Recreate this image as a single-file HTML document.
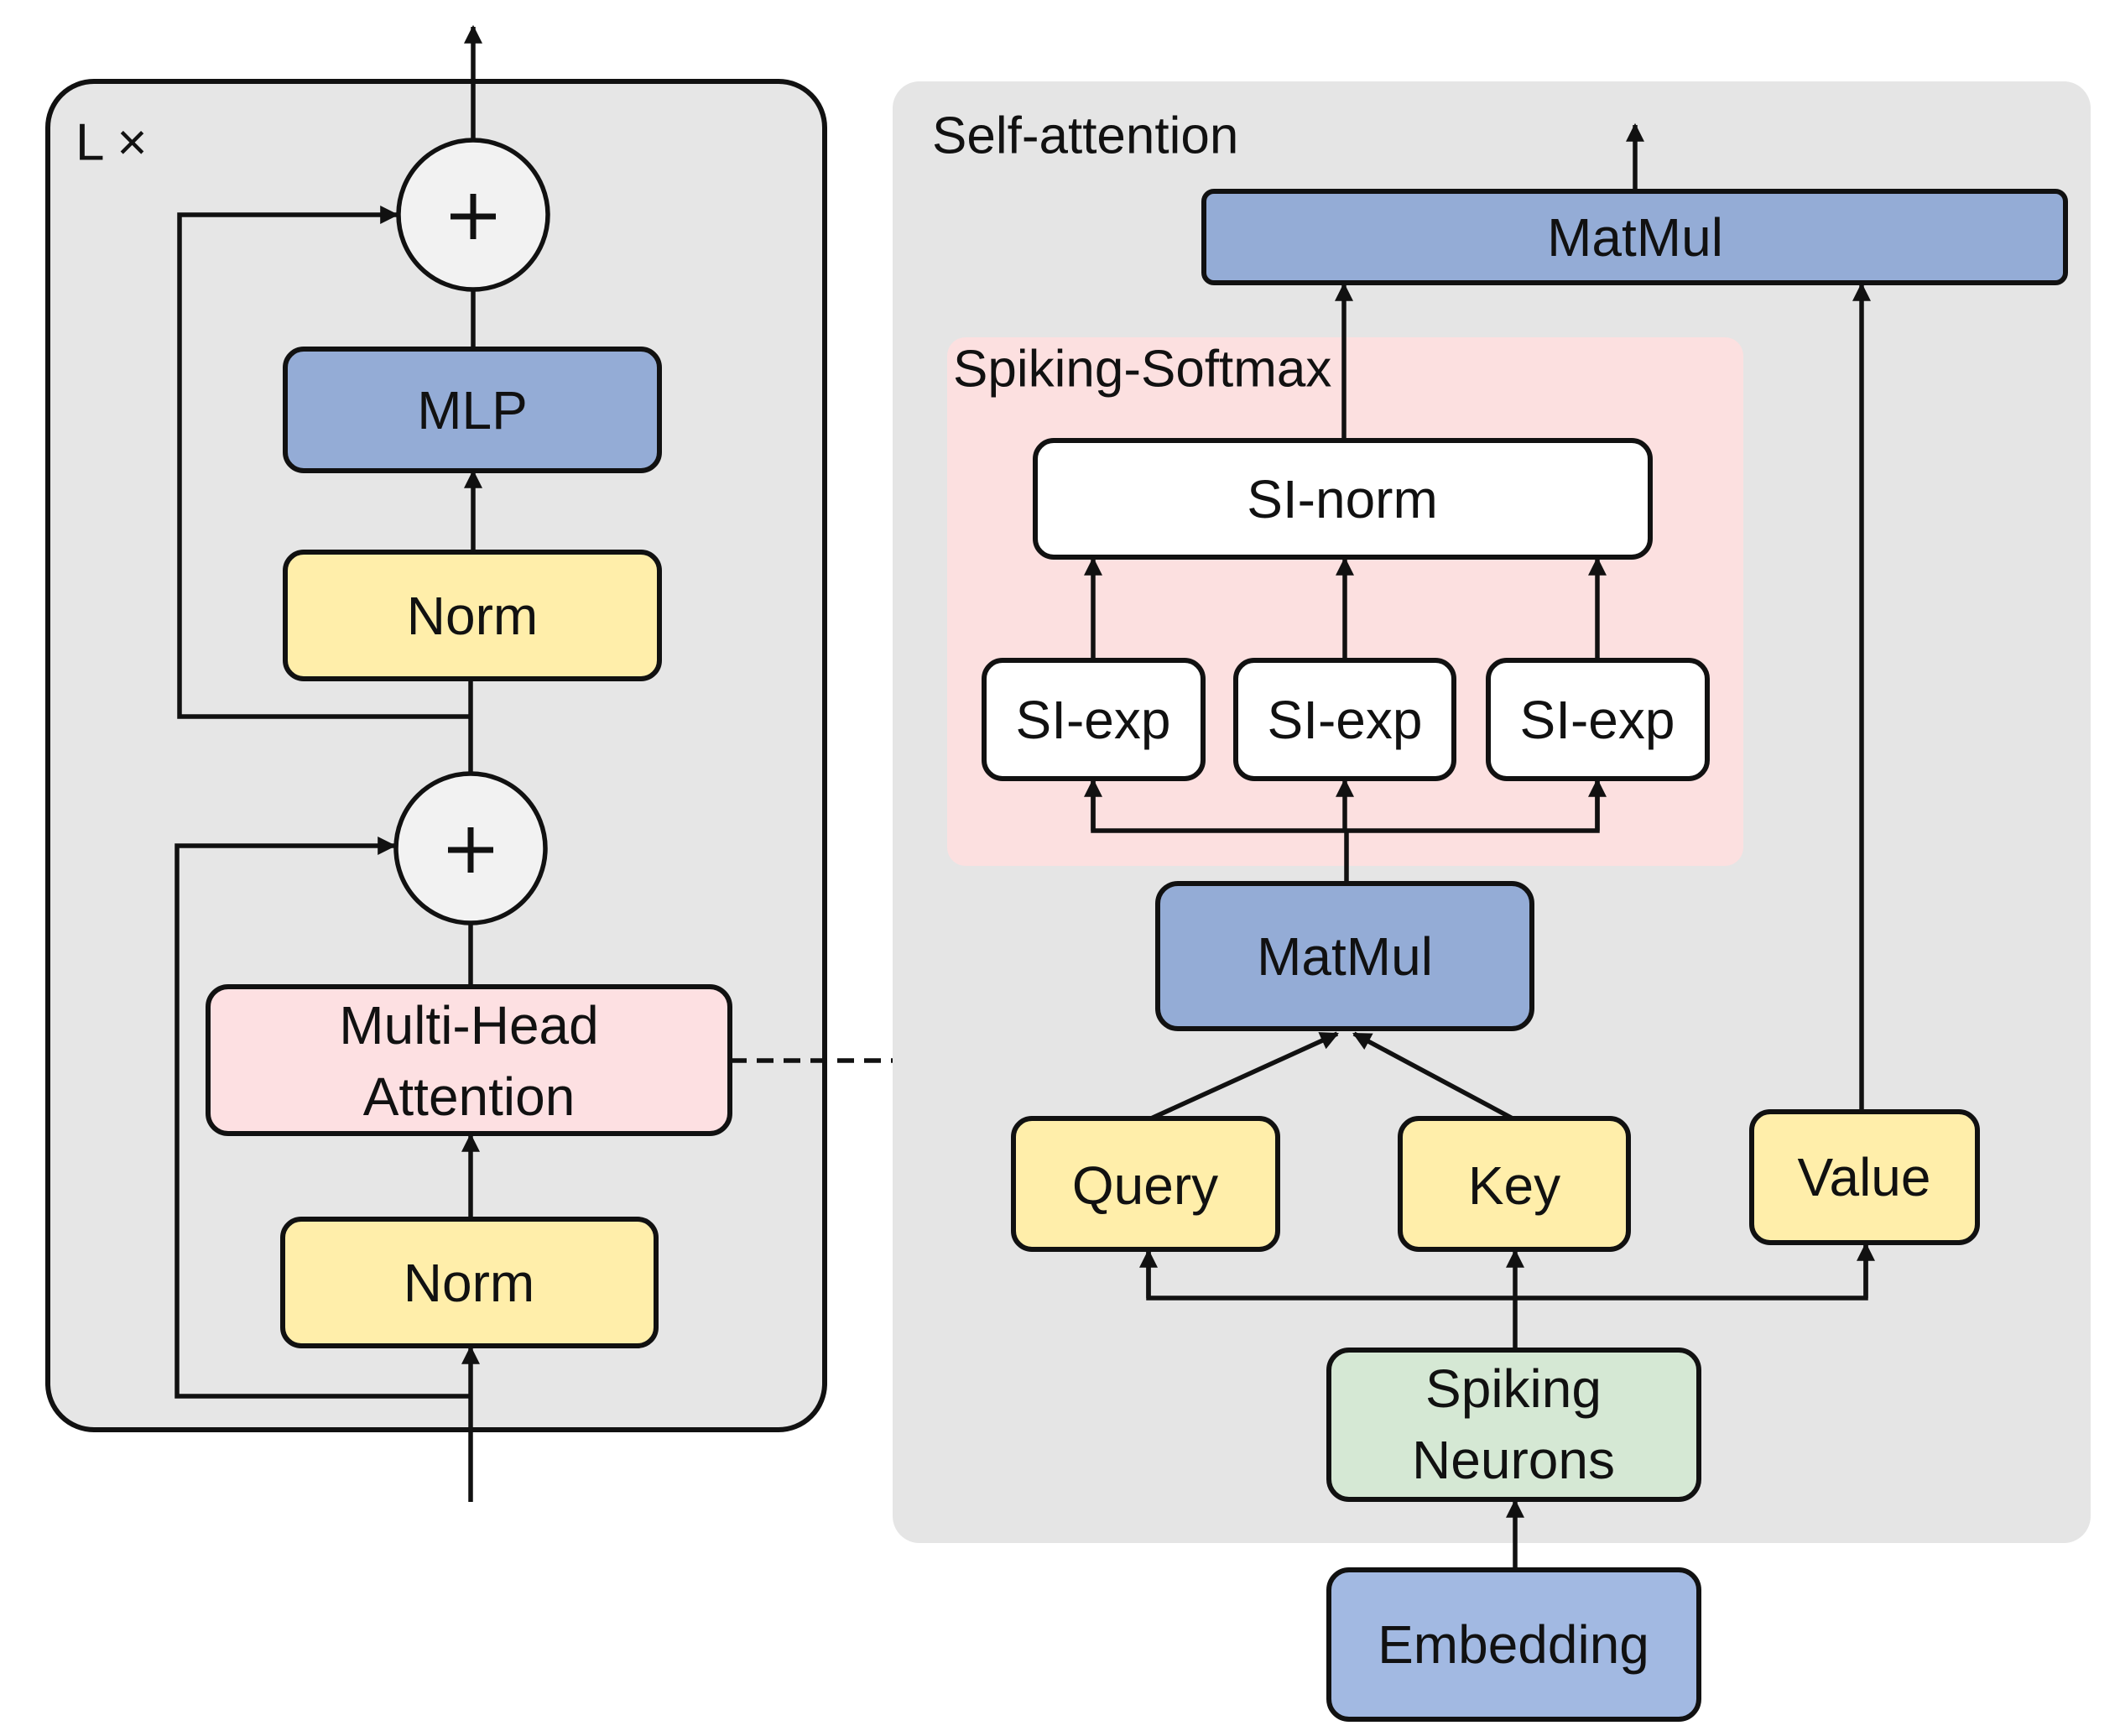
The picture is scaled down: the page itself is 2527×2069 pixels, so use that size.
<!DOCTYPE html>
<html><head><meta charset="utf-8"><style>
html,body{margin:0;padding:0;background:#fff;}
svg{display:block;}
text{font-family:"Liberation Sans",sans-serif;fill:#111;}
</style></head><body>
<svg width="2527" height="2069" viewBox="0 0 2527 2069" xmlns="http://www.w3.org/2000/svg">
<defs>
<marker id="a" viewBox="0 0 10 10" refX="9" refY="5" markerWidth="4.5" markerHeight="4" orient="auto-start-reverse" markerUnits="strokeWidth">
<path d="M0,0 L10,5 L0,10 z" fill="#111"/></marker>
</defs>
<g stroke="#111" stroke-width="5.5" fill="none">
<rect x="57" y="97" width="926" height="1607" rx="55" fill="#e6e6e6" stroke-width="6"/>
<rect x="1064" y="97" width="1428" height="1742" rx="32" fill="#e5e5e5" stroke="none"/>
<rect x="1129" y="402" width="949" height="630" rx="22" fill="#fce0e0" stroke="none"/>

<line x1="564" y1="167" x2="564" y2="32" marker-end="url(#a)"/>
<line x1="564" y1="345" x2="564" y2="418"/>
<line x1="564" y1="658" x2="564" y2="562" marker-end="url(#a)"/>
<line x1="561" y1="808" x2="561" y2="922"/>
<polyline points="561,854 214,854 214,256 473,256" marker-end="url(#a)"/>
<line x1="561" y1="1100" x2="561" y2="1176"/>
<line x1="561" y1="1453" x2="561" y2="1353" marker-end="url(#a)"/>
<line x1="561" y1="1790" x2="561" y2="1606" marker-end="url(#a)"/>
<polyline points="561,1664 211,1664 211,1008 470,1008" marker-end="url(#a)"/>
<line x1="870" y1="1264" x2="1064" y2="1264" stroke-dasharray="20,12"/>

<circle cx="564" cy="256" r="89" fill="#f2f2f2"/>
<circle cx="561" cy="1011" r="89" fill="#f2f2f2"/>
<g stroke-width="6">
<rect x="340" y="416" width="446" height="145" rx="22" fill="#94acd6"/>
<rect x="340" y="658" width="446" height="151" rx="22" fill="#ffeeaa"/>
<rect x="248" y="1176" width="622" height="175" rx="24" fill="#fde0e2"/>
<rect x="337" y="1453" width="445" height="151" rx="22" fill="#ffeeaa"/>
</g>

<line x1="1949" y1="228" x2="1949" y2="149" marker-end="url(#a)"/>
<line x1="1602" y1="525" x2="1602" y2="339" marker-end="url(#a)"/>
<line x1="2219" y1="1325" x2="2219" y2="339" marker-end="url(#a)"/>
<line x1="1303" y1="787" x2="1303" y2="666" marker-end="url(#a)"/>
<line x1="1603" y1="787" x2="1603" y2="666" marker-end="url(#a)"/>
<line x1="1904" y1="787" x2="1904" y2="666" marker-end="url(#a)"/>
<line x1="1605" y1="1053" x2="1605" y2="990"/>
<polyline points="1303,930 1303,990 1904,990 1904,930"/>
<line x1="1303" y1="990" x2="1303" y2="930" marker-end="url(#a)"/>
<line x1="1603" y1="990" x2="1603" y2="930" marker-end="url(#a)"/>
<line x1="1904" y1="990" x2="1904" y2="930" marker-end="url(#a)"/>
<line x1="1372" y1="1333" x2="1594" y2="1232" marker-end="url(#a)"/>
<line x1="1803" y1="1333" x2="1614" y2="1232" marker-end="url(#a)"/>
<polyline points="1369,1491 1369,1547 2224,1547 2224,1483"/>
<line x1="1369" y1="1547" x2="1369" y2="1491" marker-end="url(#a)"/>
<line x1="2224" y1="1547" x2="2224" y2="1483" marker-end="url(#a)"/>
<line x1="1806" y1="1609" x2="1806" y2="1491" marker-end="url(#a)"/>
<line x1="1806" y1="1871" x2="1806" y2="1789" marker-end="url(#a)"/>

<g stroke-width="6">
<rect x="1435" y="228" width="1027" height="109" rx="12" fill="#94acd6"/>
<rect x="1234" y="525" width="733" height="139" rx="22" fill="#ffffff"/>
<rect x="1173" y="787" width="261" height="141" rx="22" fill="#ffffff"/>
<rect x="1473" y="787" width="260" height="141" rx="22" fill="#ffffff"/>
<rect x="1774" y="787" width="261" height="141" rx="22" fill="#ffffff"/>
<rect x="1380" y="1053" width="446" height="173" rx="24" fill="#94acd6"/>
<rect x="1208" y="1333" width="315" height="156" rx="22" fill="#ffeeaa"/>
<rect x="1669" y="1333" width="272" height="156" rx="22" fill="#ffeeaa"/>
<rect x="2088" y="1325" width="269" height="156" rx="22" fill="#ffeeaa"/>
<rect x="1584" y="1609" width="441" height="178" rx="24" fill="#d5e8d4"/>
<rect x="1584" y="1871" width="441" height="178" rx="24" fill="#a2b9e2"/>
</g>
</g>
<g stroke="#111" stroke-width="7">
<line x1="537" y1="258" x2="591" y2="258"/><line x1="564" y1="231" x2="564" y2="285"/>
<line x1="534" y1="1013" x2="588" y2="1013"/><line x1="561" y1="986" x2="561" y2="1040"/>
</g>
<g font-size="64" text-anchor="middle" dominant-baseline="central">
<text x="563" y="489">MLP</text>
<text x="563" y="734">Norm</text>
<text x="559" y="1222">Multi-Head</text>
<text x="559" y="1307">Attention</text>
<text x="559" y="1529">Norm</text>
<text x="1949" y="283">MatMul</text>
<text x="1600" y="595">SI-norm</text>
<text x="1303" y="858">SI-exp</text>
<text x="1603" y="858">SI-exp</text>
<text x="1904" y="858">SI-exp</text>
<text x="1603" y="1140">MatMul</text>
<text x="1365" y="1413">Query</text>
<text x="1805" y="1413">Key</text>
<text x="2222" y="1403">Value</text>
<text x="1804" y="1655">Spiking</text>
<text x="1804" y="1740">Neurons</text>
<text x="1804" y="1960">Embedding</text>
</g>
<g font-size="62" dominant-baseline="central">
<text x="90" y="170">L ×</text>
<text x="1111" y="162">Self-attention</text>
<text x="1136" y="440">Spiking-Softmax</text>
</g>
</svg>
</body></html>
